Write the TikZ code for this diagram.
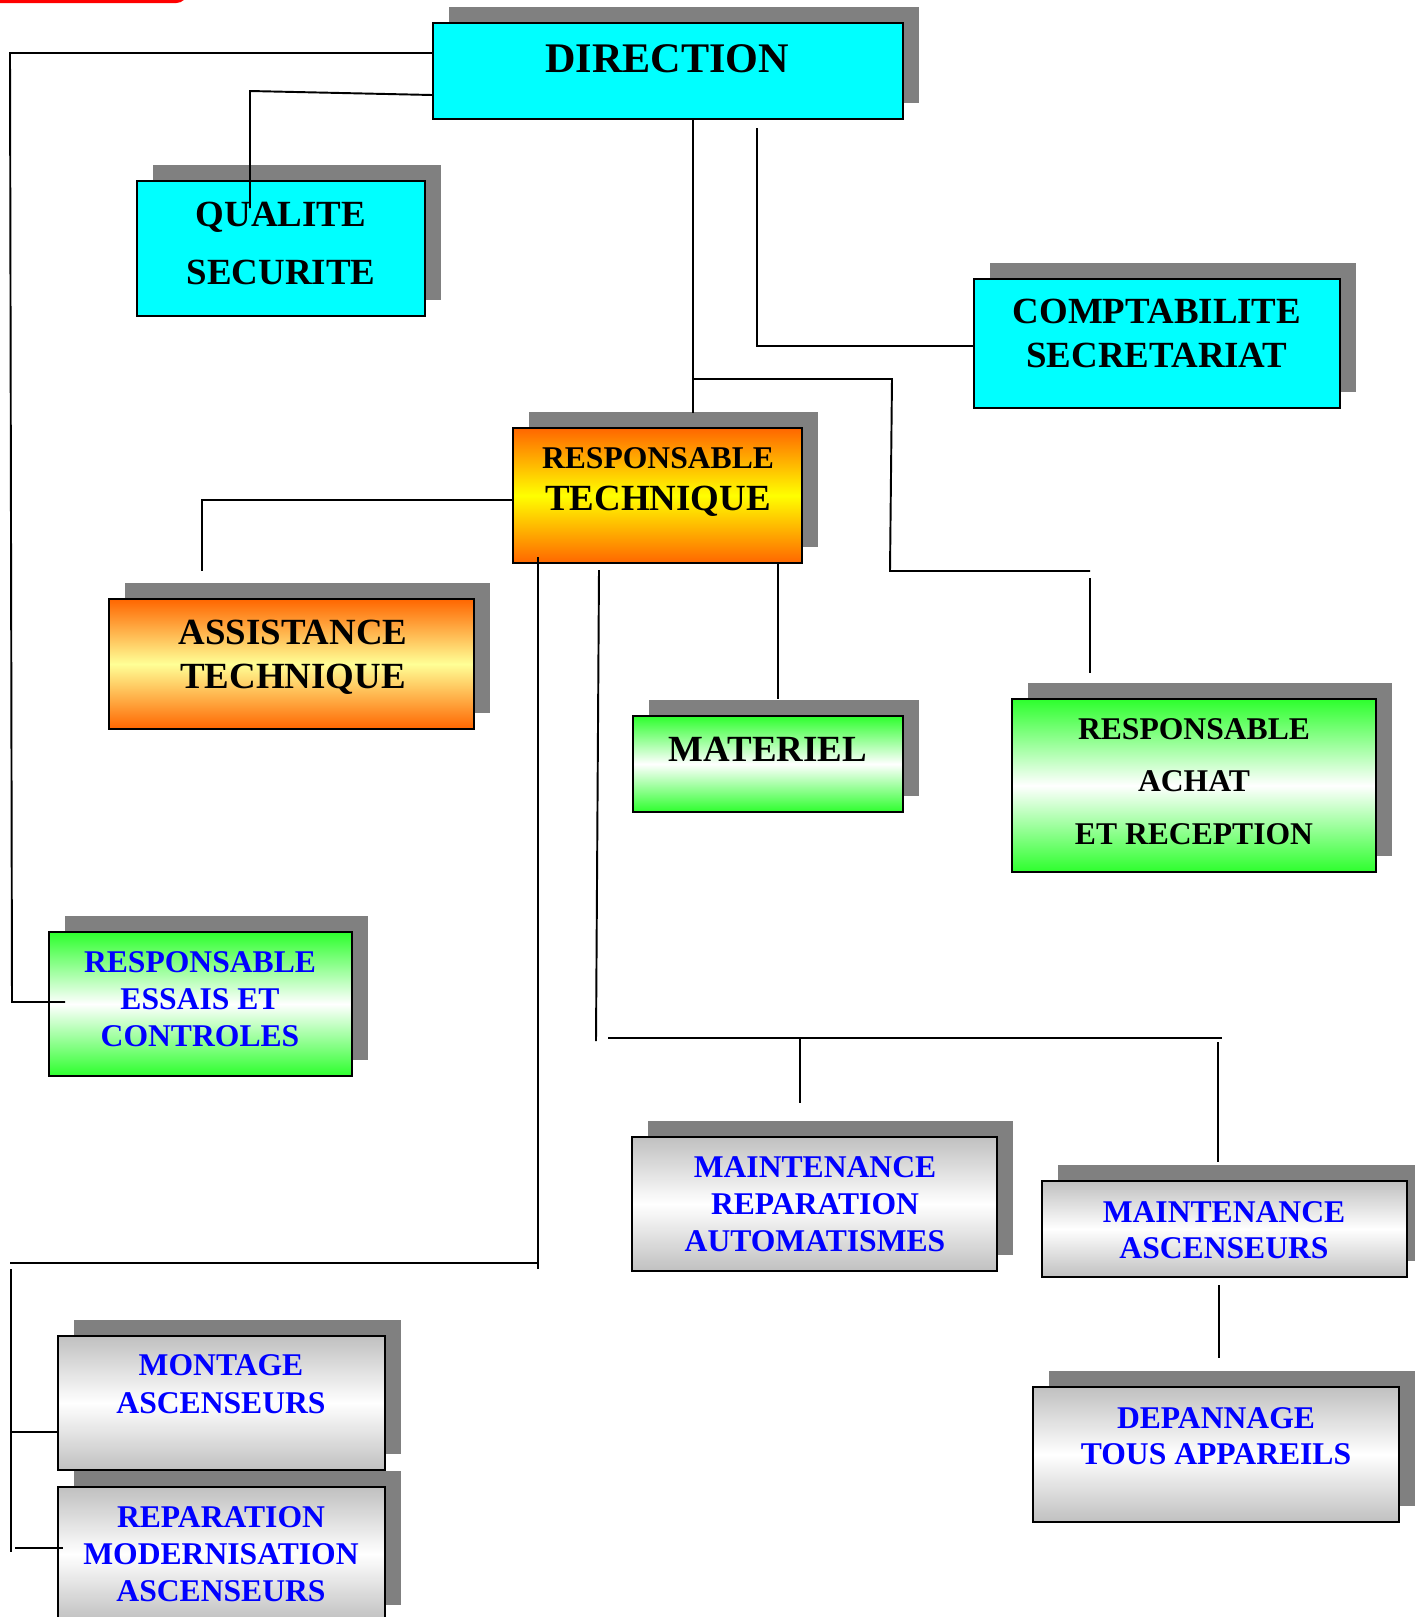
\documentclass[tikz,border=0pt]{standalone}
\usepackage{fontspec}
\setmainfont{Liberation Serif}
\usetikzlibrary{shadows,calc}

\definecolor{cyanfill}{RGB}{0,255,255}
\definecolor{orangeA}{RGB}{255,102,0}
\definecolor{lightyellow}{RGB}{255,255,150}
\definecolor{greenA}{RGB}{45,255,45}
\definecolor{grayA}{RGB}{192,192,192}
\definecolor{shadowgray}{RGB}{128,128,128}
\definecolor{textblue}{RGB}{0,0,255}

\tikzset{
  box/.style={draw, line width=1.2pt, inner sep=0pt,
    drop shadow={shadow xshift=.32cm, shadow yshift=.32cm, fill=shadowgray, opacity=1}},
  cyanbox/.style={box, fill=cyanfill},
  orangebox/.style={box, top color=orangeA, bottom color=orangeA, middle color=yellow},
  assistbox/.style={box, top color=orangeA, bottom color=orangeA, middle color=lightyellow},
  greenbox/.style={box, top color=greenA, bottom color=greenA, middle color=white},
  graybox/.style={box, top color=grayA, bottom color=grayA, middle color=white},
  lbl/.style 2 args={inner sep=0pt, align=center, font=\bfseries\fontsize{#1}{#2}\selectfont},
  link/.style={line width=1.1pt}
}

\begin{document}
\begin{tikzpicture}[x=0.02cm,y=-0.02cm]
\useasboundingbox (0,0) rectangle (1415,1617);

% bit of red at the top
\fill[red, rounded corners=6] (-20,-20) rectangle (187,3);

% boxes
\node[cyanbox, minimum width=9.4cm, minimum height=1.92cm] (dir) at (668,71) {};
\node[cyanbox, minimum width=5.76cm, minimum height=2.7cm] (qual) at (281,248.5) {};
\node[cyanbox, minimum width=7.32cm, minimum height=2.58cm] (compta) at (1157,343.5) {};
\node[orangebox, minimum width=5.78cm, minimum height=2.7cm] (resptech) at (657.5,495.5) {};
\node[assistbox, minimum width=7.3cm, minimum height=2.6cm] (assist) at (291.5,664) {};
\node[greenbox, minimum width=5.4cm, minimum height=1.92cm] (mat) at (768,764) {};
\node[greenbox, minimum width=7.28cm, minimum height=3.46cm] (achat) at (1194,785.5) {};
\node[greenbox, minimum width=6.06cm, minimum height=2.88cm] (essais) at (200.5,1004) {};
\node[graybox, minimum width=7.3cm, minimum height=2.68cm] (mra) at (814.5,1204) {};
\node[graybox, minimum width=7.3cm, minimum height=1.92cm] (masc) at (1224.5,1229) {};
\node[graybox, minimum width=7.32cm, minimum height=2.7cm] (dep) at (1216,1454.5) {};
\node[graybox, minimum width=6.54cm, minimum height=2.68cm] (mont) at (221.5,1403) {};
\node[graybox, minimum width=6.54cm, minimum height=2.68cm] (repmod) at (221.5,1554) {};

% texts
\node[lbl={24}{28}] (dir-t) at (667,59) {DIRECTION};
\node[lbl={21}{33.5}] (qual-t) at (281,243.5) {QUALITE\\SECURITE};
\node[lbl={21}{25}] (compta-t) at (1157,333) {COMPTABILITE\\SECRETARIAT};
\node[lbl={21}{23.5}] (resptech-t) at (658,482) {{\fontsize{18}{23.5}\selectfont RESPONSABLE}\\TECHNIQUE};
\node[lbl={21}{25}] (assist-t) at (293,657) {ASSISTANCE\\TECHNIQUE};
\node[lbl={21}{25}] (mat-t) at (768,749) {MATERIEL};
\node[lbl={18}{29.8}] (achat-t) at (1194,781.5) {RESPONSABLE\\ACHAT\\ET RECEPTION};
\node[lbl={18}{21}, text=textblue] (essais-t) at (200,999) {RESPONSABLE\\ESSAIS ET\\CONTROLES};
\node[lbl={18}{21}, text=textblue] (mra-t) at (815,1204) {MAINTENANCE\\REPARATION\\AUTOMATISMES};
\node[lbl={18}{20.4}, text=textblue] (masc-t) at (1224,1230) {MAINTENANCE\\ASCENSEURS};
\node[lbl={18}{20.4}, text=textblue] (dep-t) at (1216,1436) {DEPANNAGE\\TOUS APPAREILS};
\node[lbl={18}{21.5}, text=textblue] (mont-t) at (221,1384) {MONTAGE\\ASCENSEURS};
\node[lbl={18}{21}, text=textblue] (repmod-t) at (221,1554) {REPARATION\\MODERNISATION\\ASCENSEURS};

% bends and loose ends of the links
\coordinate (l1a) at (10,53);
\coordinate (l1b) at (12,1002);
\coordinate (l1c) at (65,1002);
\coordinate (l2a) at (250,91);
\coordinate (l2b) at (250,208);
\coordinate (l3a) at (693,413);
\coordinate (l3b) at (693,379);
\coordinate (l3c) at (892,379);
\coordinate (l3d) at (890,571);
\coordinate (l3e) at (1090,571);
\coordinate (l3f) at (1090,578);
\coordinate (l3g) at (1090,673);
\coordinate (l4a) at (757,128);
\coordinate (l4b) at (757,346);
\coordinate (l5a) at (202,500);
\coordinate (l5b) at (202,571);
\coordinate (l6a) at (538,557);
\coordinate (l6b) at (538,1269);
\coordinate (l6c) at (10,1263);
\coordinate (l6e) at (11,1269);
\coordinate (l6f) at (11,1552);
\coordinate (l6g) at (11,1432);
\coordinate (l6h) at (15,1548);
\coordinate (l6i) at (63,1548);
\coordinate (l7a) at (599,570);
\coordinate (l7b) at (596,1041);
\coordinate (l7c) at (608,1038);
\coordinate (l7d) at (1222,1038);
\coordinate (l7e) at (800,1038);
\coordinate (l7f) at (800,1103);
\coordinate (l7g) at (1218,1042);
\coordinate (l7h) at (1218,1162);
\coordinate (l8a) at (778,699);
\coordinate (l9a) at (1219,1285);
\coordinate (l9b) at (1219,1358);

% links
\draw[link] (dir.west |- l1a) -- (l1a) -- (l1b) -- (l1c);
\draw[link] ([yshift=-.48cm]dir.west) -- (l2a) -- (l2b);
\draw[link] (dir.south -| l3a) -- (l3a);
\draw[link] (l3b) -- (l3c) -- (l3d) -- (l3e);
\draw[link] (l3f) -- (l3g);
\draw[link] (l4a) -- (l4b) -- (compta.west |- l4b);
\draw[link] (resptech.west |- l5a) -- (l5a) -- (l5b);
\draw[link] (l6a) -- (l6b);
\draw[link] (l6c) -- (l6a |- l6c);
\draw[link] (l6e) -- (l6f);
\draw[link] (l6g) -- (mont.west |- l6g);
\draw[link] (l6h) -- (l6i);
\draw[link] (l7a) -- (l7b);
\draw[link] (l7c) -- (l7d);
\draw[link] (l7e) -- (l7f);
\draw[link] (l7g) -- (l7h);
\draw[link] (resptech.south -| l8a) -- (l8a);
\draw[link] (l9a) -- (l9b);
\end{tikzpicture}
\end{document}
